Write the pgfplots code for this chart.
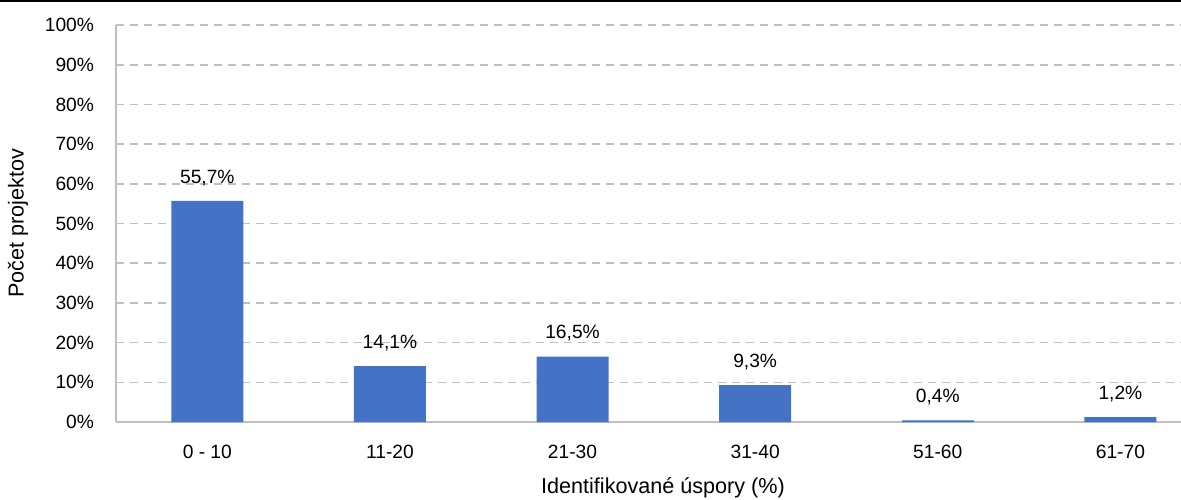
\documentclass[border=0pt]{standalone}
\usepackage{fontspec}
\setmainfont{Liberation Sans}
\usepackage{pgfplots}
\pgfplotsset{compat=1.18}
\definecolor{barblue}{HTML}{4472C4}
\definecolor{gridgray}{HTML}{C0C0C0}
\definecolor{axisgray}{HTML}{BFBFBF}
\begin{document}
\begin{tikzpicture}
\begin{axis}[
  at={(0,0)}, anchor=south west,
  scale only axis,
  width=532.5pt, height=198.5pt,
  font=\fontsize{9.6}{11}\selectfont,
  /pgf/number format/assume math mode=true,
  xmin=-0.5, xmax=5.332,
  ymin=0, ymax=100,
  ytick={0,10,...,100},
  yticklabel={\pgfmathprintnumber{\tick}\%},
  xtick={0,1,2,3,4,5},
  xticklabels={0 - 10,11-20,21-30,31-40,51-60,61-70},
  major tick length=0pt,
  axis x line*=bottom, axis y line*=left,
  axis line style={axisgray, line width=0.8pt, -},
  ymajorgrids,
  grid style={gridgray, dashed, dash pattern=on 4pt off 3pt, line width=0.8pt},
  xticklabel style={yshift=-8pt},
  yticklabel style={xshift=-7.5pt},
  xlabel={Identifikované úspory (\%)},
  ylabel={Počet projektov},
  x label style={font=\fontsize{10.8}{12}\selectfont, at={(rel axis cs:0.5136,0)}, anchor=center, yshift=-33pt},
  y label style={font=\fontsize{10.8}{12}\selectfont, at={(rel axis cs:-0.092,0.5)}, anchor=center},
  ybar, bar width=36pt,
  enlarge x limits=false,
  nodes near coords={\pgfmathprintnumber[fixed,fixed zerofill,precision=1,use comma]{\pgfplotspointmeta}\%},
  nodes near coords style={font=\fontsize{9.6}{11}\selectfont, anchor=south, yshift=4pt},
  clip=false,
]
\addplot[fill=barblue, draw=none] coordinates {
  (0,55.7) (1,14.1) (2,16.5) (3,9.3) (4,0.4) (5,1.2)
};
\end{axis}
\pgfresetboundingbox
\path[use as bounding box] (-58pt,-38.5pt) rectangle (532.5pt,211pt);
\draw[black, line width=1pt] (-58pt,210.5pt) -- (532.5pt,210.5pt);
\end{tikzpicture}
\end{document}
